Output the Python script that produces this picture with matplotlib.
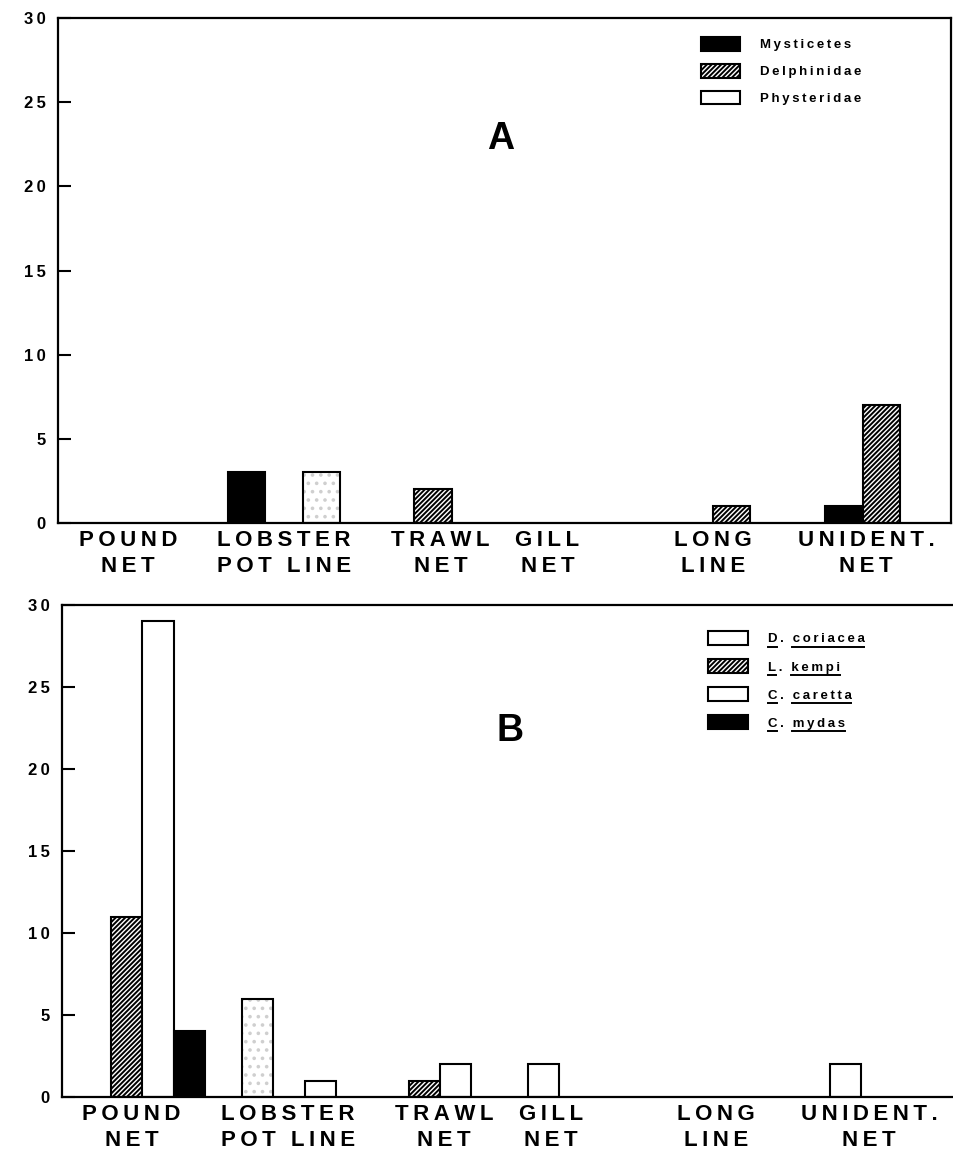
import numpy as np
import matplotlib
matplotlib.use("Agg")
import matplotlib.pyplot as plt
from matplotlib.patches import Patch
from matplotlib.lines import Line2D

plt.rcParams['font.family'] = ['Liberation Sans', 'DejaVu Sans']
plt.rcParams['font.weight'] = 'bold'
plt.rcParams['hatch.linewidth'] = 1.4

# data
gear = ["POUND\nNET", "LOBSTER\nPOT LINE", "TRAWL\nNET", "GILL\nNET", "LONG\nLINE", "UNIDENT.\nNET"]

# panel A (marine mammals)
mysticetes = [0, 3, 0, 0, 0, 1]
delphinidae = [0, 0, 2, 0, 1, 7]
physteridae = [0, 3, 0, 0, 0, 0]

# panel B (sea turtles)
coriacea = [0, 6, 0, 0, 0, 0]
kempi = [11, 0, 1, 0, 0, 0]
caretta = [29, 1, 2, 2, 0, 2]
mydas = [4, 0, 0, 0, 0, 0]

yticks = [0, 5, 10, 15, 20, 25, 30]

# layout (hand drawn original, groups not evenly spaced)
label_x = [0.78, 2.53, 4.28, 5.48, 7.33, 9.05]
group_a = [0.78, 2.53, 4.20, 5.48, 7.54, 9.22]
group_b = [0.90, 2.72, 4.24, 5.22, 7.33, 8.61]
wa = 0.42
wb = 0.35


def spaced(s, sep="\u2009"):
    return "\n".join(sep.join(line) for line in s.split("\n"))


def bars(ax, x, h, w, kind):
    x = np.asarray(x)
    h = np.asarray(h, dtype=float)
    m = h > 0
    if kind == "black":
        ax.bar(x[m], h[m], w, color="black", edgecolor="black", linewidth=1.5)
    elif kind == "hatch":
        ax.bar(x[m], h[m], w, color="white", edgecolor="black", hatch="///////", linewidth=1.5)
    elif kind == "dots":
        ax.bar(x[m], h[m], w, color="white", edgecolor="#cfcfcf", hatch="..", linewidth=0)
        ax.bar(x[m], h[m], w, fill=False, edgecolor="black", linewidth=1.5)
    else:
        ax.bar(x[m], h[m], w, color="white", edgecolor="black", linewidth=1.5)


def style(ax, right=True):
    ax.set_xlim(0, 10)
    ax.set_ylim(0, 30)
    ax.set_yticks(yticks)
    ax.set_yticklabels([spaced(str(v)) for v in yticks], fontsize=12, fontweight="bold")
    ax.tick_params(axis="y", direction="in", length=9, width=1.5, pad=9)
    ax.set_xticks(label_x)
    ax.set_xticklabels([spaced(g) for g in gear], fontsize=16, fontweight="bold",
                       linespacing=1.3)
    ax.tick_params(axis="x", length=0, pad=5)
    for s in ax.spines.values():
        s.set_linewidth(1.6)
    ax.spines["right"].set_visible(right)


fig = plt.figure(figsize=(9.54, 11.65), dpi=100)
axA = fig.add_axes([0.061, 0.5511, 0.936, 0.4334])
axB = fig.add_axes([0.065, 0.0584, 0.935, 0.4223])

ga = np.array(group_a)
bars(axA, ga - wa, mysticetes, wa, "black")
bars(axA, ga, delphinidae, wa, "hatch")
bars(axA, ga + wa, physteridae, wa, "dots")
style(axA)
axA.text(4.96, 22.8, "A", fontsize=27, fontweight="bold", ha="center", va="center")

gb = np.array(group_b)
bars(axB, gb - 1.5 * wb, coriacea, wb, "dots")
bars(axB, gb - 0.5 * wb, kempi, wb, "hatch")
bars(axB, gb + 0.5 * wb, caretta, wb, "white")
bars(axB, gb + 1.5 * wb, mydas, wb, "black")
style(axB, right=False)
axB.text(5.02, 22.3, "B", fontsize=27, fontweight="bold", ha="center", va="center")

hA = [Patch(facecolor="black", edgecolor="black", linewidth=1.5),
      Patch(facecolor="white", edgecolor="black", hatch="///////", linewidth=1.5),
      Patch(facecolor="white", edgecolor="black", linewidth=1.5)]
namesA = ["Mysticetes", "Delphinidae", "Physteridae"]
legA = axA.legend(hA, [spaced(n) for n in namesA], loc="upper left", bbox_to_anchor=(0.712, 0.975),
                  frameon=False, prop={"size": 9.5, "weight": "bold"}, handlelength=3.0,
                  handleheight=1.2, labelspacing=0.95, handletextpad=1.5, borderpad=0)

hB = [Patch(facecolor="white", edgecolor="black", linewidth=1.5),
      Patch(facecolor="white", edgecolor="black", hatch="///////", linewidth=1.5),
      Patch(facecolor="white", edgecolor="black", linewidth=1.5),
      Patch(facecolor="black", edgecolor="black", linewidth=1.5)]
namesB = ["D. coriacea", "L. kempi", "C. caretta", "C. mydas"]
legB = axB.legend(hB, [spaced(n) for n in namesB], loc="upper left", bbox_to_anchor=(0.717, 0.96),
                  frameon=False, prop={"size": 9.5, "weight": "bold"}, handlelength=3.0,
                  handleheight=1.2, labelspacing=1.05, handletextpad=1.5, borderpad=0)

# underline genus letter and species name in legend B
fig.canvas.draw()
r = fig.canvas.get_renderer()
inv = fig.transFigure.inverted()
for t in legB.get_texts():
    bb = t.get_window_extent(r)
    label = t.get_text()
    prop = t.get_fontproperties()
    dot = label.index(".")
    start2 = dot + 1
    while label[start2] in " \u2009":
        start2 += 1
    y = bb.y0 - 1.5
    for a, b in [(0, 1), (start2, len(label))]:
        x0 = bb.x0 + (r.get_text_width_height_descent(label[:a], prop, ismath=False)[0] if a else 0)
        x1 = bb.x0 + r.get_text_width_height_descent(label[:b], prop, ismath=False)[0]
        p0 = inv.transform((x0, y))
        p1 = inv.transform((x1, y))
        fig.add_artist(Line2D([p0[0], p1[0]], [p0[1], p1[1]], color="black", linewidth=1.4,
                              transform=fig.transFigure))

fig.savefig("out.png", dpi=100)
